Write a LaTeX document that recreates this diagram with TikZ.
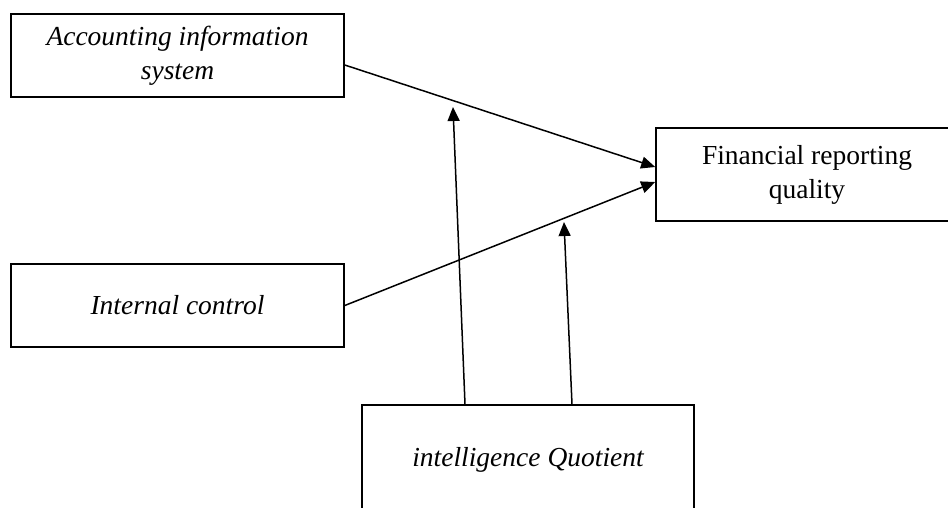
\documentclass[tikz,border=0pt]{standalone}
\usepackage{fontspec}
\setmainfont{Liberation Serif}
\usepackage{tikz}
\usetikzlibrary{arrows.meta,positioning}
\tikzset{
  varbox/.style={draw,line width=1.6pt,inner sep=0pt,align=center,
    font=\fontsize{27.5}{34}\selectfont},
  link/.style={-{Triangle[length=14pt,width=12pt]},line width=1.5pt}
}

\begin{document}
\begin{tikzpicture}[x=1pt,y=-1pt]
\clip (0,0) rectangle (948,507);
\node[varbox,minimum width=333pt,minimum height=83pt] (ais) at (177.5,55.5) {\itshape Accounting information\\ \itshape system};
\node[varbox,minimum width=302pt,minimum height=93pt] (frq) at (807,174.5) {Financial reporting\\ quality};
\node[varbox,minimum width=333pt,minimum height=83pt] (ic) at (177.5,305.5) {\itshape Internal control};
\node[varbox,minimum width=332pt,minimum height=110pt] (iq) at (528,460) {\itshape intelligence Quotient};
\coordinate (m1) at (453,107);
\coordinate (m2) at (564,222);
\path[link]
([yshift=-9.5pt]ais.east) edge ([yshift=7.5pt]frq.west)
(ic.east) edge ([yshift=-7.5pt]frq.west)
([xshift=-63pt]iq.north) edge (m1)
([xshift=44pt]iq.north) edge (m2);
\end{tikzpicture}
\end{document}
